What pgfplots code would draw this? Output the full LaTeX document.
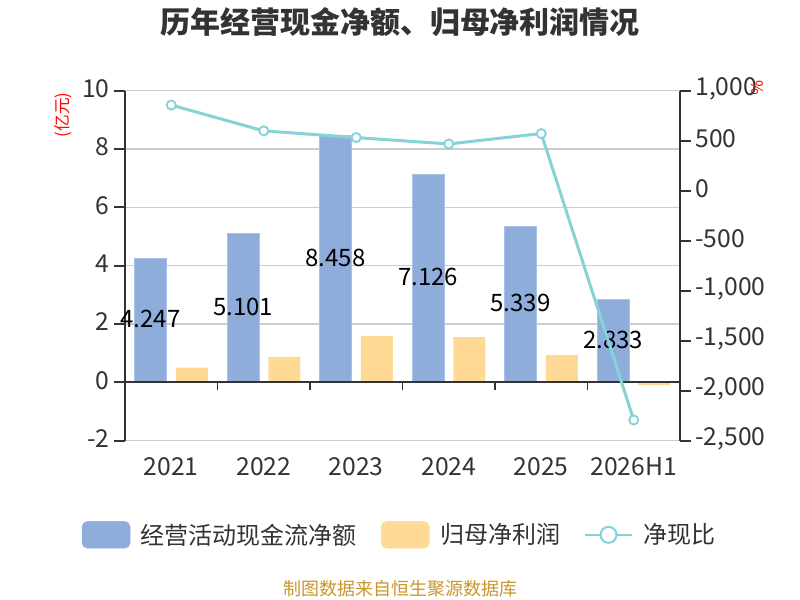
\documentclass[border=0pt]{standalone}
\usepackage{fontspec}
\setmainfont{Noto Sans CJK SC}
\usepackage{pgfplots}
\pgfplotsset{compat=1.18}
\definecolor{barblue}{RGB}{142,173,219}
\definecolor{barorange}{RGB}{255,217,150}
\definecolor{linecyan}{RGB}{133,211,215}
\definecolor{axisdark}{RGB}{51,51,51}
\definecolor{gridgray}{RGB}{204,204,204}
\definecolor{footgold}{RGB}{200,150,46}

\begin{document}
\begin{tikzpicture}
\path[use as bounding box] (0,0) rectangle (600pt,450pt);
\node[font=\fontsize{22.5}{26}\selectfont\bfseries, text=axisdark] at (300pt,433.5pt) {历年经营现金净额、归母净利润情况};

\begin{axis}[
  scale only axis, width=416.25pt, height=262.5pt,
  at={(93.75pt,119.5pt)}, anchor=south west,
  xmin=-0.5, xmax=5.5, ymin=-2, ymax=10,
  axis x line*=bottom, axis y line*=left,
  x axis line style={draw=none},
  y axis line style={draw=axisdark, line width=1.5pt},
  xtick={0,1,2,3,4,5},
  xticklabels={2021,2022,2023,2024,2025,2026H1},
  x tick style={draw=none},
  ytick={-2,0,2,4,6,8,10},
  yticklabels={-2,0,2,4,6,8,10},
  y tick style={draw=axisdark, line width=1.5pt},
  major tick length=8pt, tick align=outside,
  ymajorgrids, grid style={gridgray, line width=0.9pt},
  ticklabel style={font=\fontsize{18.5}{21}\selectfont, text=axisdark},
  xticklabel style={yshift=-1pt},
  yticklabel style={yshift=1.5pt},
  legend style={at={(0.4955,-0.269)}, anchor=center, draw=none, fill=none,
    legend columns=3, font=\fontsize{18}{21}\selectfont, text=axisdark,
    /tikz/every even column/.append style={column sep=16pt},
    /tikz/every odd column/.append style={column sep=6pt}},
  legend cell align=left,
]
\addplot[ybar, bar width=24pt, bar shift=-15.5pt, fill=barblue, draw=barblue!75!white, line width=0.6pt, forget plot]
  coordinates {(0,4.247) (1,5.101) (2,8.458) (3,7.126) (4,5.339) (5,2.833)};
\addplot[ybar, bar width=24pt, bar shift=15.5pt, fill=barorange, draw=none, forget plot]
  coordinates {(0,0.50) (1,0.87) (2,1.59) (3,1.55) (4,0.94) (5,-0.10)};
\addplot[draw=none, mark=none, forget plot, nodes near coords, point meta=explicit symbolic,
  nodes near coords align=center,
  every node near coord/.append style={anchor=center, font=\fontsize{18}{21}\selectfont, text=black, xshift=-15.5pt, yshift=1pt}]
  coordinates {(0,2.1235)[4.247] (1,2.5505)[5.101] (2,4.229)[8.458] (3,3.563)[7.126] (4,2.6695)[5.339] (5,1.4165)[2.833]};
\draw[axisdark, line width=1.5pt] (axis cs:-0.5,0) -- (axis cs:5.5,0);
\draw[axisdark, line width=1pt] (axis cs:0.5,0) -- ([yshift=-6pt]axis cs:0.5,0);
\draw[axisdark, line width=1pt] (axis cs:1.5,0) -- ([yshift=-6pt]axis cs:1.5,0);
\draw[axisdark, line width=1pt] (axis cs:2.5,0) -- ([yshift=-6pt]axis cs:2.5,0);
\draw[axisdark, line width=1pt] (axis cs:3.5,0) -- ([yshift=-6pt]axis cs:3.5,0);
\draw[axisdark, line width=1pt] (axis cs:4.5,0) -- ([yshift=-6pt]axis cs:4.5,0);
\addlegendimage{legend image code/.code={\fill[barblue, rounded corners=4pt] (0pt,-10pt) rectangle (36pt,10pt);}}
\addlegendentry{经营活动现金流净额}
\addlegendimage{legend image code/.code={\fill[barorange, rounded corners=4pt] (0pt,-10pt) rectangle (36pt,10pt);}}
\addlegendentry{归母净利润}
\addlegendimage{legend image code/.code={\draw[linecyan, line width=1.5pt] (0pt,0pt) -- (35pt,0pt); \draw[linecyan, fill=white, line width=1.5pt] (17.5pt,0pt) circle (6pt);}}
\addlegendentry{净现比}
\end{axis}

\begin{axis}[
  scale only axis, width=416.25pt, height=262.5pt,
  at={(93.75pt,119.5pt)}, anchor=south west,
  xmin=-0.5, xmax=5.5, ymin=-2500, ymax=1000,
  axis x line=none, axis y line*=right,
  y axis line style={draw=axisdark, line width=1.5pt},
  ytick={-2500,-2000,-1500,-1000,-500,0,500,1000},
  yticklabels={{-2,500},{-2,000},{-1,500},{-1,000},-500,0,500,{1,000}},
  y tick style={draw=axisdark, line width=1.5pt},
  major tick length=8pt, tick align=outside,
  ticklabel style={font=\fontsize{18.5}{21}\selectfont, text=axisdark},
  yticklabel style={yshift=1.5pt},
]
\addplot[linecyan, line width=2.25pt, mark=*, mark size=3.4pt,
  mark options={fill=white, draw=linecyan, line width=1.4pt}]
  coordinates {(0,856) (1,598) (2,531) (3,467) (4,571) (5,-2293)};
\end{axis}

\node[rotate=90, text=red, font=\fontsize{12.5}{14}\selectfont] at (47pt,363.75pt) {(亿元)};
\node[rotate=-90, text=red, font=\fontsize{12}{13}\selectfont] at (567.75pt,384pt) {\%};
\node[text=footgold, font=\fontsize{13.5}{15}\selectfont] at (300pt,8.25pt) {制图数据来自恒生聚源数据库};
\end{tikzpicture}
\end{document}
